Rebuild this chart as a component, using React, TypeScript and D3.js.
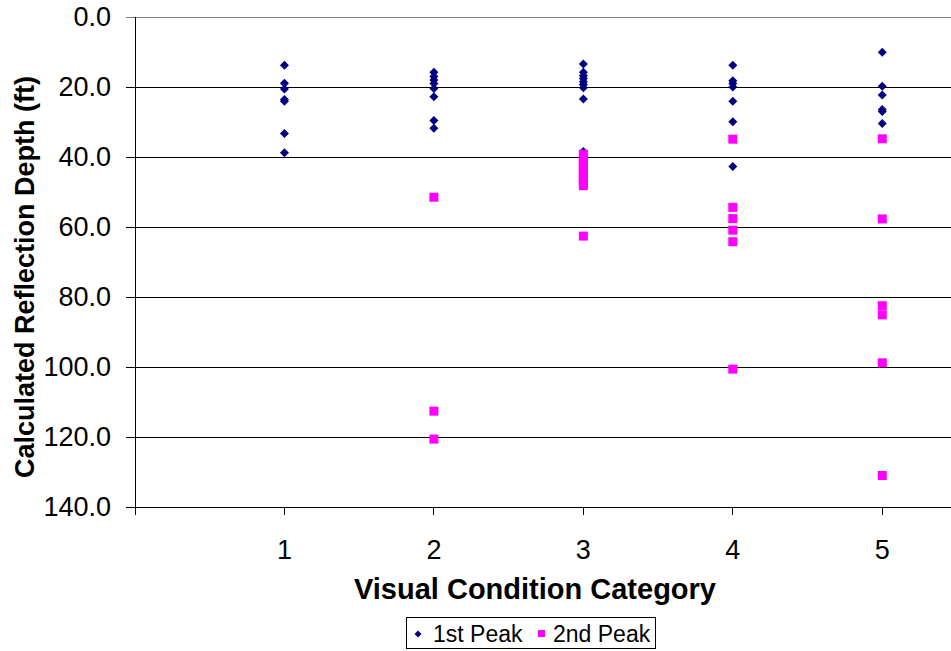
import React from 'react'
import * as d3 from 'd3'

// Visual condition category vs calculated reflection depth (ft)
const categories = [1, 2, 3, 4, 5]
const yTicks = [0, 20, 40, 60, 80, 100, 120, 140]

const firstPeak: [number, number][] = [
  [1, 13.8], [1, 18.9], [1, 20.6], [1, 23.6], [1, 24.1], [1, 33.3], [1, 38.8],
  [2, 15.8], [2, 17.0], [2, 18.0], [2, 19.0], [2, 20.4], [2, 22.8], [2, 29.6], [2, 31.8],
  [3, 13.4], [3, 15.8], [3, 16.8], [3, 17.6], [3, 18.5], [3, 19.3], [3, 20.2], [3, 23.4], [3, 38.4],
  [4, 13.8], [4, 18.2], [4, 19.0], [4, 20.0], [4, 24.1], [4, 29.9], [4, 42.7],
  [5, 10.1], [5, 19.8], [5, 22.3], [5, 26.4], [5, 27.0], [5, 30.4],
]

const secondPeak: [number, number][] = [
  [2, 51.5], [2, 112.6], [2, 120.6],
  [3, 39.2], [3, 40.4], [3, 41.5], [3, 42.5], [3, 43.5], [3, 44.5], [3, 45.5], [3, 46.5], [3, 47.4], [3, 48.2], [3, 62.6],
  [4, 34.9], [4, 54.4], [4, 57.6], [4, 60.9], [4, 64.2], [4, 100.6],
  [5, 34.8], [5, 57.7], [5, 82.5], [5, 85.1], [5, 98.8], [5, 131.0],
]

const W = 951
const H = 651
const font = 'Liberation Sans, Arial, sans-serif'

const diamondPath = (r: number) => `M0,${-r}L${r},0L0,${r}L${-r},0Z`

export default function App() {
  const x = d3.scaleLinear().domain([0, 5.46]).range([135, 951])
  const y = d3.scaleLinear().domain([0, 140]).range([17, 507])

  return (
    <svg width={W} height={H} style={{ position: 'absolute', left: 0, top: 0, background: '#fff' }} fontFamily={font}>
      {/* gridlines */}
      {yTicks.map(v => (
        <g key={v}>
          <line x1={126} x2={W} y1={y(v)} y2={y(v)} stroke={v === 0 ? '#808080' : '#000'} strokeWidth={1} shapeRendering="crispEdges" />
          <text x={111} y={y(v)} dy="0.35em" textAnchor="end" fontSize={27}>{v.toFixed(1)}</text>
        </g>
      ))}
      {/* axes */}
      <line x1={x(0)} x2={x(0)} y1={y(0)} y2={y(140) + 8} stroke="#000" strokeWidth={1} shapeRendering="crispEdges" />
      {categories.map(c => (
        <g key={c}>
          <line x1={x(c)} x2={x(c)} y1={y(140)} y2={y(140) + 8} stroke="#000" shapeRendering="crispEdges" />
          <text x={x(c)} y={550} dy="0.35em" textAnchor="middle" fontSize={27}>{c}</text>
        </g>
      ))}
      {/* points */}
      {firstPeak.map((d, i) => (
        <path key={'a' + i} d={diamondPath(4.5)} transform={`translate(${x(d[0])},${y(d[1])})`} fill="#000080" />
      ))}
      {secondPeak.map((d, i) => (
        <rect key={'b' + i} x={x(d[0]) - 4.5} y={y(d[1]) - 4.5} width={9} height={9} fill="#ff00ff" />
      ))}
      {/* titles */}
      <text x={535} y={589} dy="0.35em" textAnchor="middle" fontSize={29} fontWeight="bold">Visual Condition Category</text>
      <text transform="translate(25,277) rotate(-90)" dy="0.35em" textAnchor="middle" fontSize={27} fontWeight="bold">Calculated Reflection Depth (ft)</text>
      {/* legend */}
      <rect x={406.5} y={617.5} width={249} height={31} fill="#fff" stroke="#000" />
      <path d={diamondPath(3.5)} transform="translate(418,634)" fill="#000080" />
      <text x={433} y={634} dy="0.35em" fontSize={23}>1st Peak</text>
      <rect x={538} y={630} width={7} height={7} fill="#ff00ff" />
      <text x={553} y={634} dy="0.35em" fontSize={23}>2nd Peak</text>
    </svg>
  )
}
